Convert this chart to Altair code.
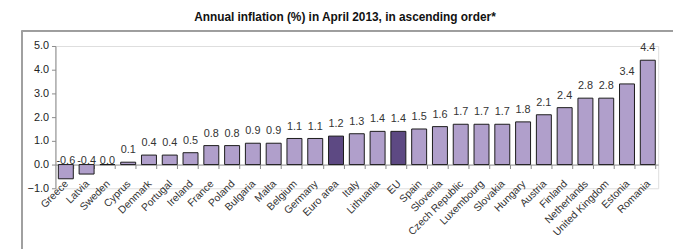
import altair as alt
import pandas as pd

countries = ["Greece", "Latvia", "Sweden", "Cyprus", "Denmark", "Portugal", "Ireland",
             "France", "Poland", "Bulgaria", "Malta", "Belgium", "Germany", "Euro area",
             "Italy", "Lithuania", "EU", "Spain", "Slovenia", "Czech Republic",
             "Luxembourg", "Slovakia", "Hungary", "Austria", "Finland", "Netherlands",
             "United Kingdom", "Estonia", "Romania"]
values = [-0.6, -0.4, 0.0, 0.1, 0.4, 0.4, 0.5, 0.8, 0.8, 0.9, 0.9, 1.1, 1.1, 1.2,
          1.3, 1.4, 1.4, 1.5, 1.6, 1.7, 1.7, 1.7, 1.8, 2.1, 2.4, 2.8, 2.8, 3.4, 4.4]
aggregates = ["Euro area", "EU"]
y_ticks = [-1, 0, 1, 2, 3, 4, 5]

df = pd.DataFrame({"country": countries, "value": values})
df["group"] = ["agg" if c in aggregates else "country" for c in countries]
df["label"] = [f"{v:.1f}" for v in values]
df["ly"] = [max(v, 0) for v in values]

FONT = "Liberation Sans"

x_axis = alt.Axis(title=None, labelAngle=-45, offset=-24, labelPadding=10, labelOffset=-3,
                  domainColor="#8a8a8a", tickColor="#8a8a8a", tickSize=4,
                  tickBand="extent", labelFontSize=10.5, labelColor="#333333",
                  labelFont=FONT, labelOverlap=False)
x_scale = alt.Scale(paddingInner=0.28, paddingOuter=0.14)
y_axis = alt.Axis(title=None, values=y_ticks, format=".1f", grid=False,
                  domainColor="#8a8a8a", tickColor="#8a8a8a", tickSize=4,
                  labelFontSize=11, labelColor="#222222", labelFont=FONT,
                  labelPadding=3, labelOverlap=False)
y_scale = alt.Scale(domain=[-1, 5], nice=False)

bars = alt.Chart(df).mark_bar(stroke="#1a1a1a", strokeWidth=1).encode(
    x=alt.X("country:N", sort=countries, scale=x_scale, axis=x_axis),
    y=alt.Y("value:Q", scale=y_scale, axis=y_axis),
    y2=alt.Y2(datum=0),
    color=alt.Color("group:N", scale=alt.Scale(domain=["country", "agg"],
                                               range=["#b09fcb", "#5d4983"]),
                    legend=None),
)

pos_labels = alt.Chart(df).transform_filter("datum.value > 0").mark_text(
    baseline="middle", dy=-12, fontSize=11, color="#333333", font=FONT
).encode(x=alt.X("country:N", sort=countries, scale=x_scale, axis=x_axis),
         y=alt.Y("ly:Q", scale=y_scale, axis=y_axis), text="label:N")

nonpos_labels = alt.Chart(df).transform_filter("datum.value <= 0").mark_text(
    baseline="middle", dy=-4, fontSize=11, color="#333333", font=FONT
).encode(x=alt.X("country:N", sort=countries, scale=x_scale, axis=x_axis),
         y=alt.Y("ly:Q", scale=y_scale, axis=y_axis), text="label:N")

frame_left = alt.Chart(df).mark_rule(color="#a0a0a0", strokeWidth=1).encode(
    x=alt.value(-34), y=alt.value(-15), y2=alt.value(220))
frame_top = alt.Chart(df).mark_rule(color="#a0a0a0", strokeWidth=1).encode(
    x=alt.value(-34), x2=alt.value(640), y=alt.value(-15))

chart = alt.layer(bars, pos_labels, nonpos_labels, frame_left, frame_top).properties(
    width=610, height=144,
    title=alt.TitleParams("Annual inflation (%) in April 2013, in ascending order*",
                          fontSize=12, fontWeight="bold", font=FONT, color="#111111",
                          anchor="middle", dx=-12, offset=7),
    autosize=alt.AutoSizeParams(type="none"),
    padding={"left": 48, "top": 37, "right": 15, "bottom": 60},
).configure_view(stroke=None).configure(background="white")

chart.save("out.html", embed_options={"renderer": "svg", "actions": False})
